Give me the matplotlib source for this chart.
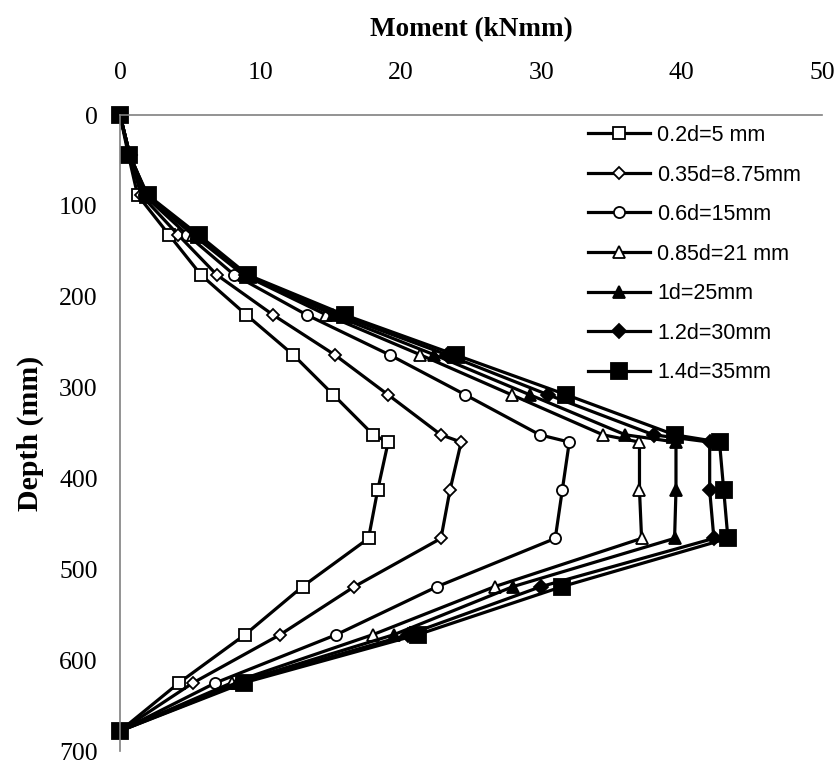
import matplotlib
matplotlib.use("Agg")
import matplotlib.pyplot as plt

depth = [0, 44, 88, 132, 176, 220, 264, 308, 352, 360, 413, 466, 519, 572, 625, 678]

labels = ["0.2d=5 mm", "0.35d=8.75mm", "0.6d=15mm", "0.85d=21 mm",
          "1d=25mm", "1.2d=30mm", "1.4d=35mm"]

m_02d = [0, 0.6, 1.25, 3.5, 5.77, 9.0, 12.34, 15.2, 18.04, 19.1, 18.35, 17.7, 13.0, 8.9, 4.2, 0]
m_035d = [0, 0.7, 1.5, 4.15, 6.9, 10.9, 15.3, 19.1, 22.86, 24.3, 23.5, 22.86, 16.7, 11.4, 5.2, 0]
m_06d = [0, 0.7, 1.7, 4.8, 8.14, 13.3, 19.2, 24.6, 29.9, 32.0, 31.5, 31.0, 22.6, 15.4, 6.8, 0]
m_085d = [0, 0.7, 1.8, 5.2, 8.8, 14.7, 21.4, 27.9, 34.4, 37.0, 37.0, 37.15, 26.7, 18.0, 7.95, 0]
m_1d = [0, 0.7, 1.9, 5.4, 9.0, 15.2, 22.4, 29.2, 36.0, 39.6, 39.6, 39.5, 28.0, 19.5, 8.3, 0]
m_12d = [0, 0.7, 1.9, 5.5, 9.0, 15.6, 23.3, 30.5, 38.0, 42.0, 42.0, 42.3, 30.0, 20.5, 8.6, 0]
m_14d = [0, 0.66, 1.97, 5.6, 9.1, 16.0, 23.9, 31.8, 39.5, 42.7, 43.0, 43.3, 31.5, 21.2, 8.8, 0]

series = [m_02d, m_035d, m_06d, m_085d, m_1d, m_12d, m_14d]
markers = ["s", "D", "o", "^", "^", "D", "s"]
faces = ["white", "white", "white", "white", "black", "black", "black"]
msizes = [8, 6.5, 8, 8.5, 8.5, 7, 11]

xticks = [0, 10, 20, 30, 40, 50]
yticks = [0, 100, 200, 300, 400, 500, 600, 700]

fig = plt.figure(figsize=(8.39, 7.64), dpi=100)
ax_bottom = 751
ax = fig.add_axes([120/839, 1-ax_bottom/764, (822-120)/839, (ax_bottom-115)/764])

for vals, mk, fc, ms, lab in zip(series, markers, faces, msizes, labels):
    ax.plot(vals, depth, color="black", lw=2.3, marker=mk, markersize=ms,
            markerfacecolor=fc, markeredgecolor="black", markeredgewidth=1.3,
            label=lab, clip_on=False)

ax.set_xlim(0, 50)
ax.set_ylim(700, 0)
ax.set_xticks(xticks)
ax.set_yticks(yticks)
ax.xaxis.tick_top()
ax.xaxis.set_label_position("top")
for s in ["right", "bottom"]:
    ax.spines[s].set_visible(False)
for s in ["top", "left"]:
    ax.spines[s].set_color("#808080")
    ax.spines[s].set_linewidth(1.2)
ax.tick_params(axis="both", length=0, labelsize=18.5)
ax.tick_params(axis="x", pad=22)
ax.tick_params(axis="y", pad=16)
for t in ax.get_xticklabels() + ax.get_yticklabels():
    t.set_fontfamily("Liberation Serif")

ax.set_xlabel("Moment (kNmm)", fontfamily="Liberation Serif", fontweight="bold",
              fontsize=19.5, va="center")
ax.xaxis.set_label_coords(0.5, (ax_bottom-30)/(ax_bottom-115))
ax.set_ylabel("Depth (mm)", fontfamily="Liberation Serif", fontweight="bold",
              fontsize=21.5, va="center")
ax.yaxis.set_label_coords((30-120)/702, 0.5)

leg = ax.legend(loc="upper left",
                bbox_to_anchor=((588-120)/702, (ax_bottom-125)/(ax_bottom-115)),
                frameon=False, prop={"family": "Liberation Sans", "size": 15.5},
                handlelength=2.9, handletextpad=0.3, labelspacing=0.86,
                borderaxespad=0, borderpad=0)

fig.savefig("out.png", dpi=100)
